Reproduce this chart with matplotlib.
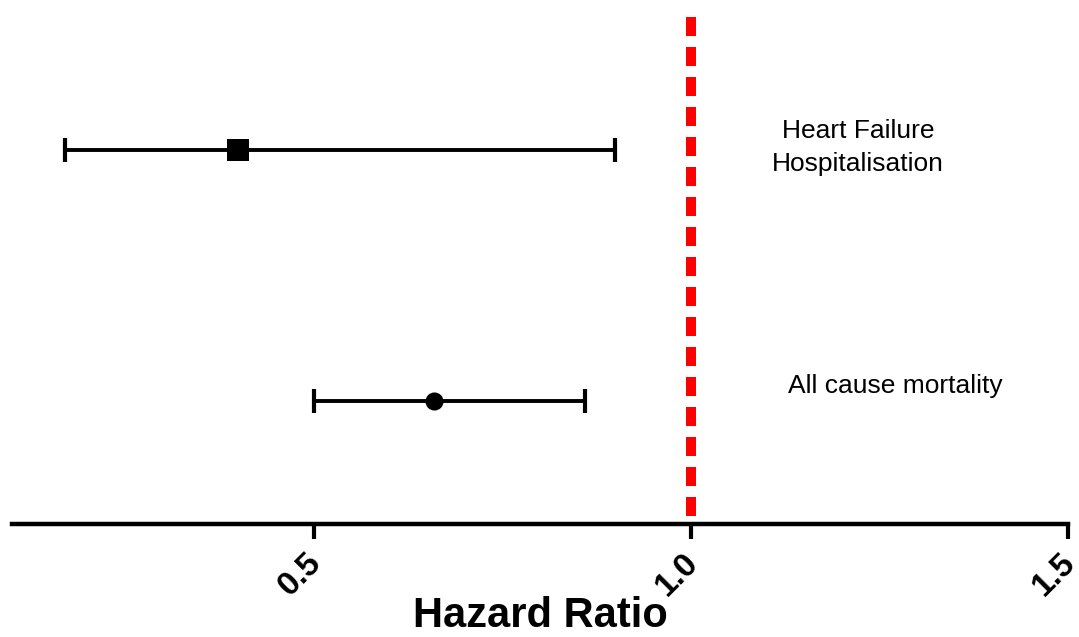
import matplotlib.pyplot as plt
import matplotlib.transforms as mtransforms

# hazard ratios with 95% confidence limits
outcomes = ["Heart Failure\nHospitalisation", "All cause mortality"]
hazard_ratio = [0.40, 0.66]
ci_low = [0.17, 0.50]
ci_high = [0.90, 0.86]
row_pos = [2, 1]
markers = ["s", "o"]
marker_sizes = [16.5, 13]
label_x = [1.222, 1.271]
label_y = [2.01, 1.06]
tick_values = [0.5, 1.0, 1.5]
tick_labels = ["0.5", "1.0", "1.5"]

plt.rcParams['font.family'] = ['Liberation Sans', 'DejaVu Sans']

fig = plt.figure(figsize=(10.79, 6.37), dpi=100)
ax = fig.add_axes([12 / 1079, 113 / 637, 1056 / 1079, 507 / 637])

for i in range(len(outcomes)):
    err = [[hazard_ratio[i] - ci_low[i]], [ci_high[i] - hazard_ratio[i]]]
    ax.errorbar([hazard_ratio[i]], [row_pos[i]], xerr=err, fmt='none',
                ecolor='black', elinewidth=2.8, capsize=8.5, capthick=3,
                zorder=3)
    ax.plot([hazard_ratio[i]], [row_pos[i]], marker=markers[i], color='black',
            ms=marker_sizes[i], mew=0, ls='none', zorder=4)
    ax.text(label_x[i], label_y[i], outcomes[i], ha='center', va='center',
            fontsize=19, linespacing=1.45)

# line of no effect, dashed from the top down
ax.axvline(1.0, ymin=1, ymax=0, color='#ff0000', lw=7.2,
           ls=(0, (1.9, 1.1)), zorder=2)

ax.set_xlim(0.1, 1.5)
ax.set_ylim(0.51, 2.53)
ax.set_yticks([])
for side in ['left', 'right', 'top']:
    ax.spines[side].set_visible(False)
ax.spines['bottom'].set_linewidth(3.2)
ax.set_xticks(tick_values)
ax.set_xticklabels(tick_labels, rotation=45, ha='right', va='top',
                   rotation_mode='anchor', fontsize=24, fontweight='bold')
ax.tick_params(axis='x', length=11, width=3, pad=6)
# nudge the slanted tick labels a little to the left
shift = mtransforms.ScaledTranslation(-8 / 100, 0, fig.dpi_scale_trans)
for lab in ax.get_xticklabels():
    lab.set_transform(lab.get_transform() + shift)
ax.set_xlabel("Hazard Ratio", fontsize=30, fontweight='bold', labelpad=-4.5)

plt.savefig('out.png', dpi=100)
